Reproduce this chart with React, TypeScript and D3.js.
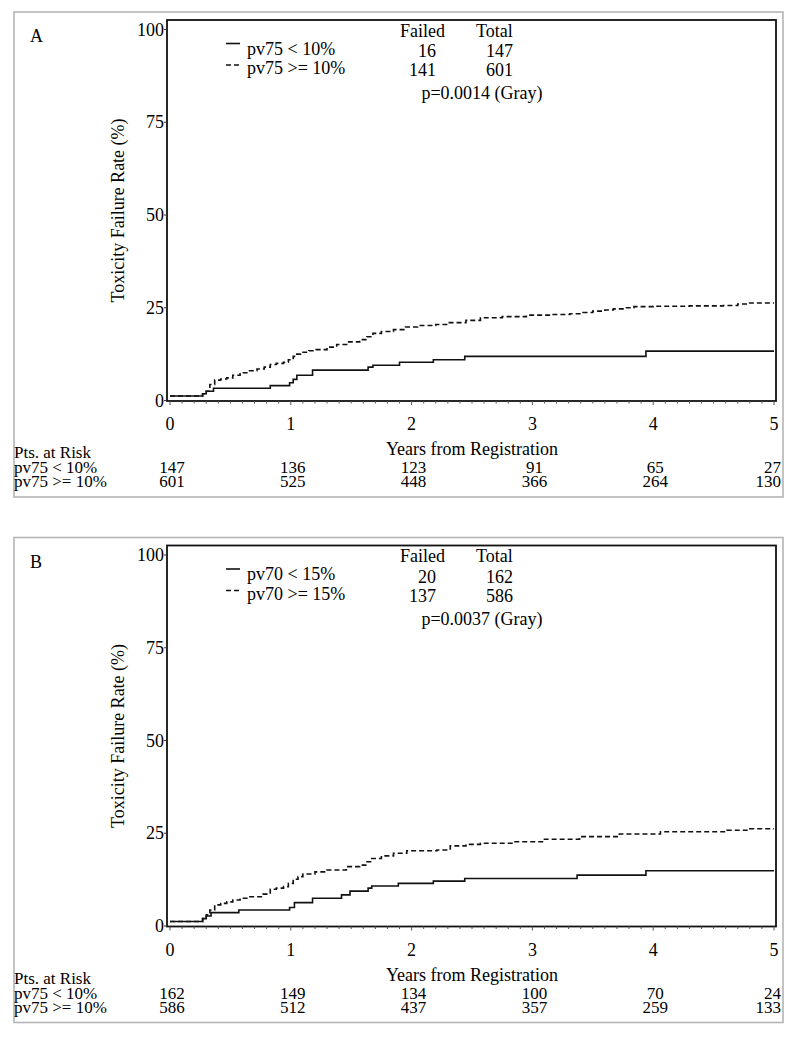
import React from "react";
import * as d3 from "d3";

const FONT = "'Liberation Serif', 'Times New Roman', serif";

const xTicks = [0, 1, 2, 3, 4, 5];
const yTicks = [0, 25, 50, 75, 100];

// Panel A
const aLowTime = [0, 0.27, 0.30, 0.36, 0.83, 0.99, 1.02, 1.05, 1.18, 1.64, 1.68, 1.90, 2.18, 2.44, 3.94, 5];
const aLowPct = [1.2, 1.8, 2.5, 3.3, 4.0, 4.8, 5.7, 6.8, 8.2, 9.0, 9.5, 10.3, 11.0, 11.9, 13.3, 13.3];
const aHighTime = [0, 0.27, 0.30, 0.33, 0.37, 0.42, 0.47, 0.52, 0.58, 0.65, 0.72, 0.78, 0.83, 0.88, 0.94, 0.98, 1.02, 1.05, 1.08, 1.15, 1.21, 1.30, 1.38, 1.47, 1.57, 1.63, 1.68, 1.75, 1.85, 1.95, 2.05, 2.20, 2.30, 2.45, 2.57, 2.75, 2.95, 3.15, 3.31, 3.42, 3.50, 3.60, 3.67, 3.75, 3.84, 4.0, 4.3, 4.58, 4.70, 4.77, 5];
const aHighPct = [1.2, 1.8, 2.5, 4.3, 5.5, 5.8, 6.1, 6.8, 7.5, 8.0, 8.5, 9.0, 9.7, 10.0, 10.3, 11.0, 11.9, 12.5, 13.0, 13.4, 13.7, 14.4, 15.1, 15.8, 16.4, 17.2, 18.1, 18.6, 19.1, 19.8, 20.2, 20.5, 21.0, 21.6, 22.3, 22.6, 23.0, 23.2, 23.4, 23.7, 24.1, 24.4, 24.7, 25.0, 25.3, 25.4, 25.5, 25.6, 26.0, 26.3, 26.3];

// Panel B
const bLowTime = [0, 0.27, 0.30, 0.34, 0.57, 0.99, 1.03, 1.18, 1.42, 1.49, 1.64, 1.67, 1.89, 2.18, 2.44, 3.37, 3.94, 5];
const bLowPct = [1.2, 2.0, 2.7, 3.6, 4.3, 5.0, 6.3, 7.5, 8.4, 9.4, 10.2, 10.8, 11.5, 12.1, 12.8, 13.7, 14.9, 14.9];
const bHighTime = [0, 0.27, 0.30, 0.33, 0.37, 0.42, 0.47, 0.52, 0.58, 0.65, 0.77, 0.83, 0.88, 0.94, 0.98, 1.02, 1.06, 1.10, 1.20, 1.30, 1.46, 1.57, 1.62, 1.66, 1.75, 1.85, 1.96, 2.21, 2.32, 2.45, 2.57, 2.84, 3.09, 3.39, 3.72, 4.06, 4.61, 4.80, 5];
const bHighPct = [1.2, 2.0, 3.0, 4.3, 5.7, 6.1, 6.5, 7.0, 7.5, 7.9, 8.6, 9.9, 10.2, 10.6, 11.5, 12.6, 13.3, 14.0, 14.6, 15.1, 16.0, 16.4, 17.3, 18.2, 18.9, 19.6, 20.3, 20.5, 21.6, 22.0, 22.3, 22.7, 23.4, 24.1, 24.8, 25.4, 25.8, 26.2, 26.2];

const riskRowLabels = ["pv75 < 10%", "pv75 >= 10%"];
const aRiskLow = [147, 136, 123, 91, 65, 27];
const aRiskHigh = [601, 525, 448, 366, 264, 130];
const bRiskLow = [162, 149, 134, 100, 70, 24];
const bRiskHigh = [586, 512, 437, 357, 259, 133];

const aLegend = ["pv75 < 10%", "pv75 >= 10%"];
const bLegend = ["pv70 < 15%", "pv70 >= 15%"];
const aFailed = [16, 141];
const aTotal = [147, 601];
const bFailed = [20, 137];
const bTotal = [162, 586];

interface PanelProps {
  offset: number;
  letter: string;
  lowT: number[];
  lowP: number[];
  highT: number[];
  highP: number[];
  legend: string[];
  failed: number[];
  total: number[];
  pText: string;
  riskLow: number[];
  riskHigh: number[];
}

const x = d3.scaleLinear().domain([0, 5]).range([170, 774]);
const y = d3.scaleLinear().domain([0, 100]).range([400.5, 29.5]);

function Panel(p: PanelProps) {
  const line = d3
    .line<[number, number]>()
    .x((d) => x(d[0]))
    .y((d) => y(d[1]))
    .curve(d3.curveStepAfter);
  const low = p.lowT.map((t, i) => [t, p.lowP[i]] as [number, number]);
  const high = p.highT.map((t, i) => [t, p.highP[i]] as [number, number]);
  const minor = d3.range(0, 50.001, 1).map((v) => v / 10);
  const left = 167;
  const right = 776;
  const top = 20;
  const bottom = 401;
  return (
    <g transform={`translate(0,${p.offset})`} fontFamily={FONT} fill="#000">
      <rect x={14} y={12} width={769} height={485} fill="none" stroke="#b5b5b5" strokeWidth={1.6} />
      <text x={30} y={42} fontSize={18}>{p.letter}</text>
      {/* plot frame */}
      <rect x={left} y={top} width={right - left} height={bottom - top} fill="none" stroke="#111" strokeWidth={1.8} />
      {/* y ticks */}
      {yTicks.map((t) => (
        <g key={"y" + t}>
          <line x1={left - 3} x2={left} y1={y(t)} y2={y(t)} stroke="#333" strokeWidth={1} />
          <text x={164} y={y(t) + 6} fontSize={18} textAnchor="end">{t}</text>
        </g>
      ))}
      <text
        transform={`translate(124,${(top + bottom) / 2}) rotate(-90)`}
        fontSize={18}
        textAnchor="middle"
      >
        Toxicity Failure Rate (%)
      </text>
      {/* x ticks */}
      {minor.map((t, i) => (
        <line
          key={"m" + i}
          x1={x(t)}
          x2={x(t)}
          y1={bottom}
          y2={bottom + (i % 10 === 0 ? 4 : 2.5)}
          stroke="#555"
          strokeWidth={1}
        />
      ))}
      {xTicks.map((t) => (
        <text key={"x" + t} x={x(t)} y={430} fontSize={18} textAnchor="middle">{t}</text>
      ))}
      <text x={(x(0) + x(5)) / 2} y={455} fontSize={18} textAnchor="middle">Years from Registration</text>
      {/* curves */}
      <path d={line(low) || ""} fill="none" stroke="#111" strokeWidth={1.6} />
      <path d={line(high) || ""} fill="none" stroke="#111" strokeWidth={1.6} strokeDasharray="5,3" />
      {/* legend */}
      <line x1={226} x2={240} y1={43.5} y2={43.5} stroke="#111" strokeWidth={1.6} />
      <line x1={226} x2={240} y1={65} y2={65} stroke="#111" strokeWidth={1.6} strokeDasharray="5,3" />
      <text x={247} y={54.5} fontSize={18}>{p.legend[0]}</text>
      <text x={247} y={74} fontSize={18}>{p.legend[1]}</text>
      <text x={400} y={36.5} fontSize={18}>Failed</text>
      <text x={476} y={36.5} fontSize={18}>Total</text>
      {p.failed.map((v, i) => (
        <text key={"f" + i} x={436} y={57 + i * 19} fontSize={18} textAnchor="end">{v}</text>
      ))}
      {p.total.map((v, i) => (
        <text key={"t" + i} x={513} y={57 + i * 19} fontSize={18} textAnchor="end">{v}</text>
      ))}
      <text x={482} y={99} fontSize={18} textAnchor="middle">{p.pText}</text>
      {/* risk table */}
      <text x={14} y={458} fontSize={17}>Pts. at Risk</text>
      <text x={14} y={473} fontSize={17}>{riskRowLabels[0]}</text>
      <text x={14} y={487} fontSize={17}>{riskRowLabels[1]}</text>
      {[p.riskLow, p.riskHigh].map((row, r) =>
        row.map((v, i) => (
          <text
            key={"r" + r + "-" + i}
            x={i === 5 ? 781 : x(xTicks[i]) + 2}
            y={473 + r * 14}
            fontSize={17}
            textAnchor={i === 5 ? "end" : "middle"}
          >
            {v}
          </text>
        ))
      )}
    </g>
  );
}

export default function App() {
  return (
    <svg
      width={800}
      height={1037}
      style={{ position: "absolute", left: 0, top: 0, background: "#fff" }}
    >
      <rect x={0} y={0} width={800} height={1037} fill="#fff" />
      <Panel
        offset={0}
        letter="A"
        lowT={aLowTime}
        lowP={aLowPct}
        highT={aHighTime}
        highP={aHighPct}
        legend={aLegend}
        failed={aFailed}
        total={aTotal}
        pText="p=0.0014 (Gray)"
        riskLow={aRiskLow}
        riskHigh={aRiskHigh}
      />
      <Panel
        offset={525.5}
        letter="B"
        lowT={bLowTime}
        lowP={bLowPct}
        highT={bHighTime}
        highP={bHighPct}
        legend={bLegend}
        failed={bFailed}
        total={bTotal}
        pText="p=0.0037 (Gray)"
        riskLow={bRiskLow}
        riskHigh={bRiskHigh}
      />
    </svg>
  );
}
